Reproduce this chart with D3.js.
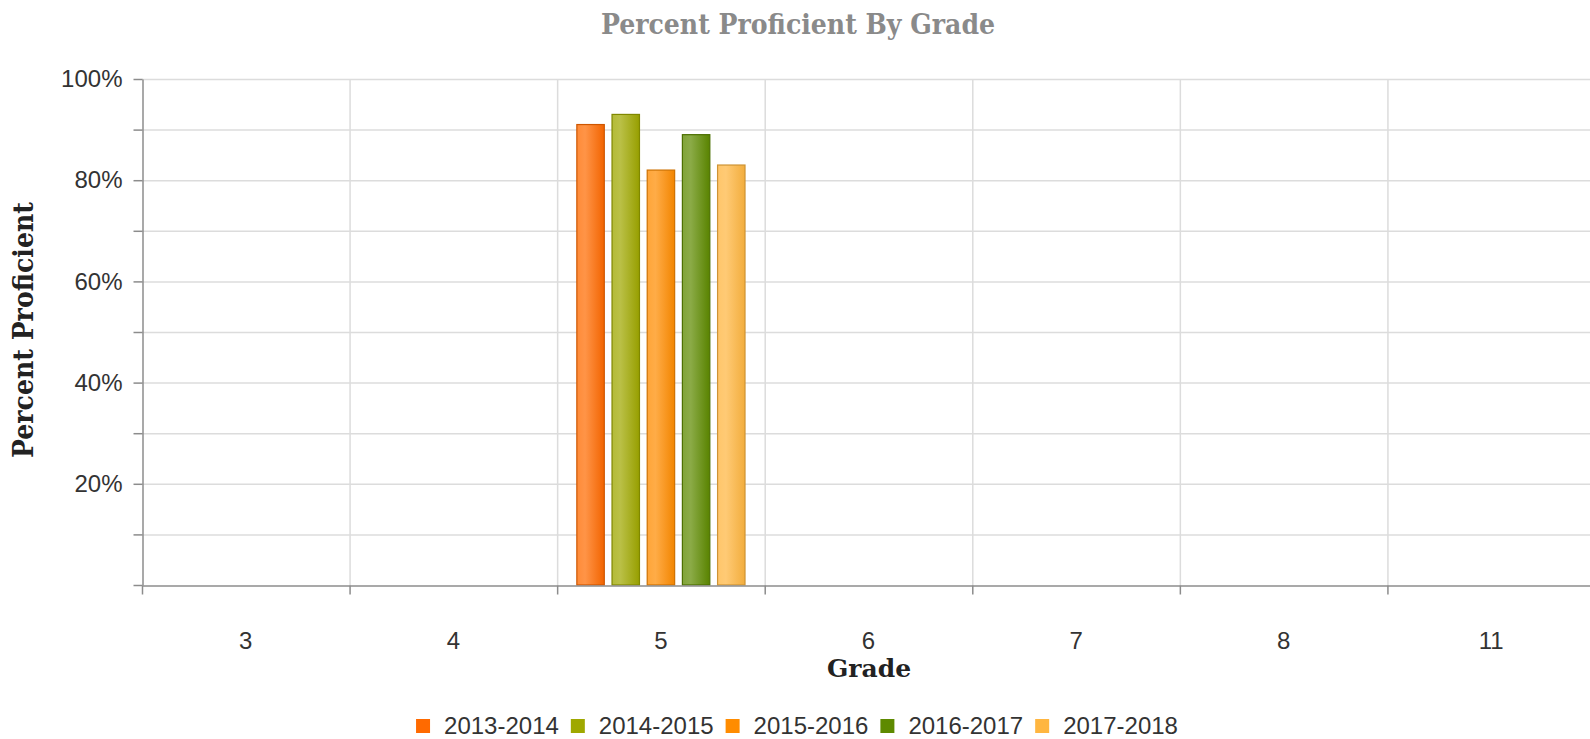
<!DOCTYPE html>
<html>
<head>
<meta charset="utf-8">
<script src="https://cdn.jsdelivr.net/npm/d3@7"></script>
<style>
  body { margin: 0; background: #fff; }
  svg { display: block; }
</style>
</head>
<body>
<svg></svg>
<script>
const width = 1590;
const height = 739;
const margin = { top: 79, right: -5, bottom: 154, left: 142 };

// datos
const grades = ["3", "4", "5", "6", "7", "8", "11"];
const seasons = ["2013-2014", "2014-2015", "2015-2016", "2016-2017", "2017-2018"];
const colors = ["#ff6a00", "#9fa800", "#ff8c00", "#5e8a00", "#ffb640"];
const v2013 = [null, null, 91, null, null, null, null];
const v2014 = [null, null, 93, null, null, null, null];
const v2015 = [null, null, 82, null, null, null, null];
const v2016 = [null, null, 89, null, null, null, null];
const v2017 = [null, null, 83, null, null, null, null];
const yTicks = [0, 10, 20, 30, 40, 50, 60, 70, 80, 90, 100];
const yLabels = [20, 40, 60, 80, 100];

const series = [v2013, v2014, v2015, v2016, v2017];
const data = [];
seasons.forEach((s, i) => {
  grades.forEach((g, j) => {
    if (series[i][j] != null) data.push({ season: s, grade: g, value: series[i][j], color: colors[i] });
  });
});

const svg = d3.select("svg")
  .attr("width", width)
  .attr("height", height);

const x = d3.scaleBand()
  .domain(grades)
  .range([margin.left, width - margin.right]);

const x1 = d3.scaleBand()
  .domain(seasons)
  .range([0, x.bandwidth()])
  .paddingInner(0.22)
  .paddingOuter(0.56);

const y = d3.scaleLinear()
  .domain([0, 100])
  .range([height - margin.bottom, margin.top]);

// gradientes
const defs = svg.append("defs");
seasons.forEach((s, i) => {
  const c = d3.color(colors[i]);
  const g = defs.append("linearGradient")
    .attr("id", "grad" + i)
    .attr("x1", "0%").attr("x2", "100%").attr("y1", "0%").attr("y2", "0%");
  g.append("stop").attr("offset", "0%").attr("stop-color", d3.interpolateRgb(c, "#fff")(0.22));
  g.append("stop").attr("offset", "30%").attr("stop-color", d3.interpolateRgb(c, "#fff")(0.28));
  g.append("stop").attr("offset", "100%").attr("stop-color", c.darker(0.15));
});

// grilla horizontal
svg.append("g")
  .selectAll("line")
  .data(yTicks.filter(d => d > 0))
  .join("line")
  .attr("x1", margin.left)
  .attr("x2", width)
  .attr("y1", d => y(d) + 0.5)
  .attr("y2", d => y(d) + 0.5)
  .attr("stroke", "#dcdcdc")
  .attr("stroke-width", 1.5);

// grilla vertical
svg.append("g")
  .selectAll("line")
  .data(grades.slice(1))
  .join("line")
  .attr("x1", d => x(d) + 0.5)
  .attr("x2", d => x(d) + 0.5)
  .attr("y1", y(100))
  .attr("y2", y(0))
  .attr("stroke", "#dcdcdc")
  .attr("stroke-width", 1.5);

// barras
svg.append("g")
  .selectAll("rect")
  .data(data)
  .join("rect")
  .attr("x", d => x(d.grade) + x1(d.season))
  .attr("y", d => y(d.value))
  .attr("width", x1.bandwidth())
  .attr("height", d => y(0) - y(d.value))
  .attr("fill", d => "url(#grad" + seasons.indexOf(d.season) + ")")
  .attr("stroke", d => d3.color(d.color).darker(0.6))
  .attr("stroke-width", 1.2);

const sans = "'Liberation Sans', Arial, sans-serif";

// Eje Y
const yAxis = svg.append("g")
  .attr("transform", `translate(${margin.left + 0.5},0)`)
  .call(d3.axisLeft(y).tickValues(yTicks).tickSize(9).tickSizeOuter(0)
    .tickFormat(d => yLabels.includes(d) ? d + "%" : ""));
yAxis.select(".domain").attr("stroke", "#8c8c8c").attr("stroke-width", 1.5);
yAxis.selectAll(".tick line").attr("stroke", "#8c8c8c").attr("stroke-width", 1.5);
yAxis.selectAll(".tick text")
  .attr("x", -20)
  .attr("fill", "#333")
  .style("font-family", sans)
  .style("font-size", "24px");

// Eje X
const xAxis = svg.append("g")
  .attr("transform", `translate(0,${y(0) + 0.5})`)
  .call(d3.axisBottom(x).tickSize(0).tickSizeOuter(0));
xAxis.select(".domain").attr("stroke", "#8c8c8c").attr("stroke-width", 1.5);
xAxis.selectAll(".tick text")
  .attr("dy", 0)
  .attr("y", 63)
  .attr("fill", "#333")
  .style("font-family", sans)
  .style("font-size", "24px");

// ticks de separacion
xAxis.append("g")
  .selectAll("line")
  .data(grades)
  .join("line")
  .attr("x1", d => x(d) + 0.5)
  .attr("x2", d => x(d) + 0.5)
  .attr("y1", 0)
  .attr("y2", 9)
  .attr("stroke", "#8c8c8c")
  .attr("stroke-width", 1.5);

const slab = "'DejaVu Serif', serif";

// Titulo
svg.append("text")
  .attr("x", width / 2 + 3)
  .attr("y", 34)
  .attr("text-anchor", "middle")
  .style("font-family", slab)
  .style("font-weight", "bold")
  .style("font-stretch", "condensed")
  .style("font-size", "28px")
  .attr("fill", "#8a8a8a")
  .text("Percent Proficient By Grade");

// Etiquetas
svg.append("text")
  .attr("transform", `translate(33,${(y(0) + y(100)) / 2 - 2}) rotate(-90)`)
  .attr("text-anchor", "middle")
  .style("font-family", slab)
  .style("font-weight", "bold")
  .style("font-stretch", "condensed")
  .style("font-size", "28px")
  .attr("fill", "#222")
  .text("Percent Proficient");

svg.append("text")
  .attr("x", 869)
  .attr("y", 677)
  .attr("text-anchor", "middle")
  .style("font-family", slab)
  .style("font-weight", "bold")
  .style("font-size", "25px")
  .attr("fill", "#222")
  .text("Grade");

// Leyenda
const legend = svg.append("g");
let lx = 0;
seasons.forEach((s, i) => {
  const item = legend.append("g").attr("transform", `translate(${lx},0)`);
  item.append("rect")
    .attr("x", 0)
    .attr("y", -15)
    .attr("width", 14)
    .attr("height", 14)
    .attr("fill", colors[i]);
  const t = item.append("text")
    .attr("x", 28)
    .attr("y", 0)
    .style("font-family", sans)
    .style("font-size", "24px")
    .attr("fill", "#333")
    .text(s);
  lx += 28 + t.node().getComputedTextLength() + 12;
});
const lw = lx - 12;
legend.attr("transform", `translate(${797 - lw / 2},734)`);
</script>
</body>
</html>
